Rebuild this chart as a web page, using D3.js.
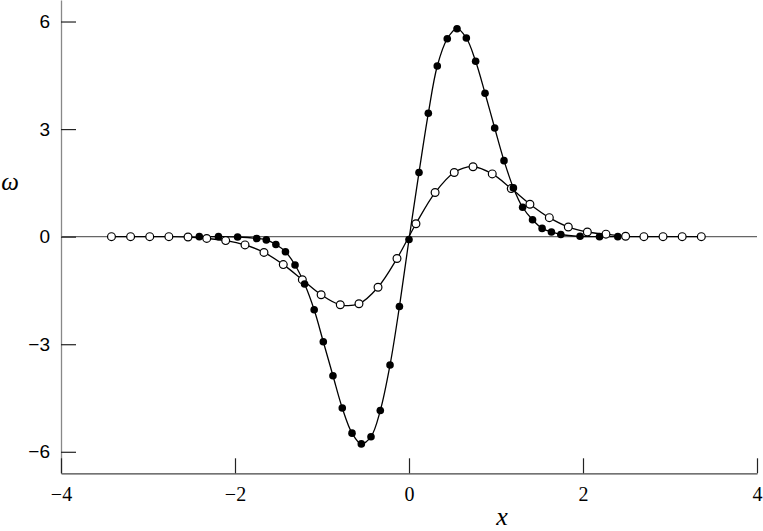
<!DOCTYPE html>
<html>
<head>
<meta charset="utf-8">
<script src="https://cdn.jsdelivr.net/npm/d3@7"></script>
<style>
  html, body { margin: 0; padding: 0; background: #fff; }
  svg { display: block; }
</style>
</head>
<body>
<svg id="chart" width="763" height="531"></svg>
<script>
// ---- Data ----
const filledX = [-2.41, -2.19, -1.97, -1.75, -1.64, -1.53, -1.42, -1.31, -1.20, -1.09, -0.985, -0.874, -0.767, -0.655, -0.548, -0.437, -0.33, -0.218, -0.11, 0.0,
  0.115, 0.222, 0.325, 0.44, 0.552, 0.659, 0.766, 0.874, 0.985, 1.092, 1.20, 1.306, 1.42, 1.53, 1.637, 1.745, 1.966, 2.19, 2.40];
const filledY = [0.0, 0.0, -0.01, -0.05, -0.09, -0.22, -0.42, -0.79, -1.32, -2.04, -2.93, -3.88, -4.78, -5.48, -5.78, -5.58, -4.85, -3.58, -1.95, -0.08,
  1.79, 3.44, 4.76, 5.52, 5.80, 5.54, 4.89, 4.00, 3.03, 2.12, 1.36, 0.82, 0.47, 0.23, 0.13, 0.06, 0.01, 0.0, 0.0];

const openX = [-3.42, -3.20, -2.98, -2.76, -2.54, -2.325, -2.107, -1.885, -1.667, -1.445, -1.226, -1.01, -0.79, -0.575, -0.356, -0.138,
  0.08, 0.30, 0.52, 0.736, 0.957, 1.175, 1.39, 1.613, 1.831, 2.05, 2.264, 2.49, 2.70, 2.92, 3.14, 3.36];
const openY = [0.0, 0.0, 0.0, 0.0, -0.01, -0.05, -0.11, -0.23, -0.44, -0.78, -1.20, -1.62, -1.90, -1.87, -1.41, -0.61,
  0.36, 1.23, 1.79, 1.95, 1.75, 1.34, 0.905, 0.53, 0.27, 0.13, 0.07, 0.01, 0.0, 0.0, 0.0, 0.0];

const xTicks = [-4, -2, 0, 2, 4];
const yTicks = [-6, -3, 0, 3, 6];
const xDomain = [-4, 4];
const yDomain = [-6.6, 6.6];

// ---- Drawing ----
const svg = d3.select("#chart");
const x = d3.scaleLinear().domain(xDomain).range([61, 757]);
const y = d3.scaleLinear().domain(yDomain).range([473.3, 0]);
const fmt = d => (d < 0 ? "\u2212" + Math.abs(d) : String(d));

// zero line
svg.append("line")
  .attr("x1", x(xDomain[0])).attr("x2", x(xDomain[1]))
  .attr("y1", y(0)).attr("y2", y(0))
  .attr("stroke", "#666").attr("stroke-width", 1.2);

// y axis
const yAxis = svg.append("g")
  .attr("transform", `translate(${x(xDomain[0])},0)`)
  .call(d3.axisLeft(y).tickValues(yTicks).tickFormat(fmt).tickSizeInner(-15).tickSizeOuter(0).tickPadding(11));
yAxis.select(".domain").attr("stroke", "#888").attr("stroke-width", 1.3);
yAxis.selectAll(".tick line").attr("stroke", "#222").attr("stroke-width", 1.2);
yAxis.selectAll(".tick text")
  .attr("font-family", "'Liberation Sans', Arial, sans-serif")
  .attr("font-size", 19).attr("fill", "#000");

// x axis
const xAxis = svg.append("g")
  .attr("transform", `translate(0,${y(yDomain[0])})`)
  .call(d3.axisBottom(x).tickValues(xTicks).tickFormat(fmt).tickSizeInner(-15).tickSizeOuter(0).tickPadding(14));
xAxis.select(".domain").attr("stroke", "#444").attr("stroke-width", 1.3);
xAxis.selectAll(".tick line").attr("stroke", "#222").attr("stroke-width", 1.2);
xAxis.selectAll(".tick text")
  .attr("font-family", "'Liberation Serif', 'DejaVu Serif', serif")
  .attr("font-size", 20).attr("fill", "#000");

// axis titles
svg.append("text")
  .attr("x", x(1.07)).attr("y", 525)
  .attr("text-anchor", "middle")
  .attr("font-family", "'Liberation Serif', 'DejaVu Serif', serif")
  .attr("font-style", "italic").attr("font-size", 26)
  .text("x");
svg.append("text")
  .attr("x", 10).attr("y", y(1.45))
  .attr("text-anchor", "middle").attr("dominant-baseline", "middle")
  .attr("font-family", "'Liberation Serif', 'DejaVu Serif', serif")
  .attr("font-style", "italic").attr("font-size", 25)
  .text("\u03c9");

const filled = filledX.map((d, i) => [d, filledY[i]]);
const open = openX.map((d, i) => [d, openY[i]]);

const line = d3.line().x(d => x(d[0])).y(d => y(d[1])).curve(d3.curveCatmullRom.alpha(0.5));

svg.append("path").datum(open).attr("d", line)
  .attr("fill", "none").attr("stroke", "#000").attr("stroke-width", 1.3);
svg.append("path").datum(filled).attr("d", line)
  .attr("fill", "none").attr("stroke", "#000").attr("stroke-width", 1.3);

svg.append("g").selectAll("circle").data(open).join("circle")
  .attr("cx", d => x(d[0])).attr("cy", d => y(d[1])).attr("r", 3.9)
  .attr("fill", "#fff").attr("stroke", "#000").attr("stroke-width", 1.2);
svg.append("g").selectAll("circle").data(filled).join("circle")
  .attr("cx", d => x(d[0])).attr("cy", d => y(d[1])).attr("r", 3.8)
  .attr("fill", "#000");
</script>
</body>
</html>
